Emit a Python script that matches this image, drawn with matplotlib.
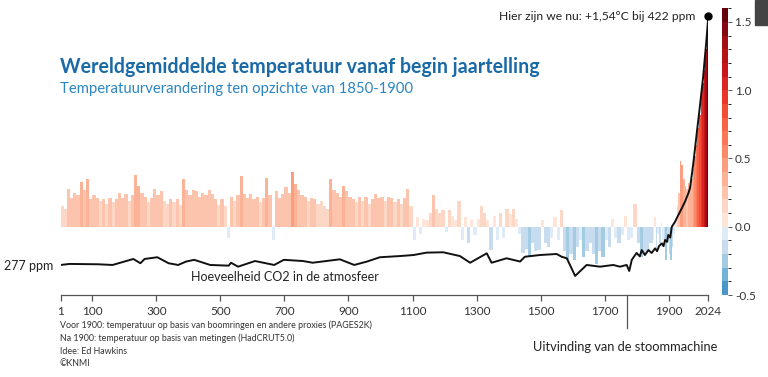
import numpy as np
import matplotlib
matplotlib.use("Agg")
import matplotlib.pyplot as plt
from matplotlib.colors import ListedColormap, BoundaryNorm
from matplotlib.patches import Rectangle

plt.rcParams["font.family"] = ["Lato", "DejaVu Sans"]

# Temperature anomaly vs 1850-1900 (°C), decadal bins before 1850 (PAGES2K)
proxy_start = np.arange(0, 1850, 10)
proxy_temp = [
    0.15, 0.13, 0.28, 0.21, 0.25, 0.23, 0.33, 0.27, 0.35, 0.20,
    0.23, 0.21, 0.19, 0.20, 0.17, 0.21, 0.18, 0.20, 0.25, 0.21,
    0.24, 0.19, 0.23, 0.38, 0.30, 0.25, 0.22, 0.18, 0.21, 0.28,
    0.23, 0.26, 0.19, 0.17, 0.20, 0.18, 0.20, 0.16, 0.35, 0.27,
    0.23, 0.27, 0.26, 0.22, 0.25, 0.23, 0.27, 0.24, 0.20, 0.16,
    0.20, 0.15, -0.08, 0.22, 0.19, 0.23, 0.37, 0.24, 0.21, 0.24,
    0.20, 0.22, 0.18, 0.21, 0.36, 0.23, -0.10, 0.26, 0.21, 0.24,
    0.29, 0.25, 0.40, 0.31, 0.27, 0.23, 0.22, 0.19, 0.21, 0.20,
    0.17, 0.19, 0.15, 0.13, 0.35, 0.27, 0.25, 0.22, 0.30, 0.26,
    0.22, 0.20, 0.18, 0.22, 0.19, 0.22, 0.17, 0.20, 0.24, 0.21,
    0.22, 0.19, 0.22, 0.21, 0.18, 0.20, 0.17, 0.21, 0.28, 0.15,
    -0.10, 0.07, -0.05, 0.06, 0.05, 0.10, 0.23, 0.13, 0.10, 0.12,
    -0.04, 0.12, 0.08, 0.05, 0.19, -0.10, 0.07, -0.12, 0.05, -0.06,
    0.06, 0.15, 0.10, 0.05, -0.17, 0.08, -0.10, 0.10, -0.08, 0.13,
    0.09, 0.13, 0.06, -0.05, -0.19, -0.16, -0.22, -0.12, -0.18, -0.17,
    0.05, -0.12, -0.15, -0.08, 0.07, -0.10, 0.12, -0.18, -0.24, -0.20,
    -0.24, -0.15, -0.10, -0.22, -0.18, -0.12, -0.20, -0.27, -0.18, -0.22,
    -0.10, -0.15, 0.06, -0.08, -0.12, -0.06, 0.08, -0.10, -0.08, 0.17,
    -0.12, -0.22, -0.20, -0.18, -0.12,
]

# 5-year bins from 1850 (HadCRUT5)
obs_start = np.arange(1850, 2025, 5)
obs_temp = [
    -0.10, 0.07, -0.17, -0.05, -0.12, 0.03, -0.10, -0.15, -0.24, -0.12,
    -0.20, -0.24, -0.15, -0.05, 0.05, 0.15, 0.25, 0.48, 0.45, 0.35,
    0.30, 0.28, 0.32, 0.30, 0.35, 0.42, 0.52, 0.60, 0.72, 0.82,
    0.95, 1.05, 1.15, 1.30, 1.54,
]

# CO2 concentration (ppm)
co2_year = [
    1, 28, 118, 163, 228, 250, 263, 303, 338, 368, 393, 418, 468, 526, 533,
    555, 608, 668, 698, 758, 788, 873, 918, 958, 998, 1061, 1103, 1144, 1196,
    1248, 1280, 1332, 1347, 1394, 1436, 1451, 1498, 1550, 1566, 1582, 1608,
    1644, 1686, 1727, 1748, 1769, 1777, 1785, 1800, 1810, 1816, 1826, 1837,
    1847, 1858, 1864, 1870, 1879, 1884, 1889, 1895, 1899, 1905, 1910, 1920,
    1930, 1941, 1951, 1962, 1967, 1977, 1988, 1998, 2008, 2019, 2024,
]
co2_ppm = [
    277, 277.6, 277.4, 277, 280.5, 278, 280.5, 281.5, 278, 277, 279, 280, 277,
    276.6, 278.3, 276, 279.3, 277, 280, 279.3, 278.3, 280.3, 277, 279, 281.5,
    282.2, 282.8, 284.2, 284.4, 282.2, 278.3, 283.8, 278.3, 280.9, 279, 281.8,
    282.8, 283.4, 281.8, 280.9, 270.6, 277, 276, 277, 276, 277, 273.5, 280,
    284, 282, 285.7, 282.8, 285.7, 284, 286.7, 285, 288, 289.6, 288, 291.6,
    290.5, 294.5, 293, 299.3, 302.2, 306, 310, 313.9, 319, 322, 336, 354, 370,
    387, 410, 422,
]

year_ticks = [1, 100, 300, 500, 700, 900, 1100, 1300, 1500, 1700, 1900, 2024]
cbar_ticks = [-0.5, 0.0, 0.5, 1.0, 1.5]
cbar_labels = ["-0.5", "0.0", "0.5", "1.0", "1.5 °C"]
steam_year = 1769
now_temp, now_ppm = 1.54, 422

# discrete colour scale, 0.1 °C steps
bounds = np.round(np.arange(-0.5, 1.61, 0.1), 2)
blues = plt.cm.Blues(np.linspace(0.6, 0.12, 5))
reds = plt.cm.Reds(np.linspace(0.1, 1.0, 16))
cmap = ListedColormap(np.vstack([blues, reds]))
norm = BoundaryNorm(bounds, cmap.N)

W, H = 768, 377
fig = plt.figure(figsize=(W / 100, H / 100), dpi=100)
ax = fig.add_axes([60.7 / W, 82 / H, 647.6 / W, 286.7 / H])

ax.bar(proxy_start, proxy_temp, width=10, align="edge",
       color=cmap(norm(proxy_temp)), linewidth=0)
ax.bar(obs_start, obs_temp, width=5, align="edge",
       color=cmap(norm(obs_temp)), linewidth=0)

ax.set_xlim(1, 2024)
ax.set_ylim(-0.5, 1.6)
for s in ["left", "right", "top"]:
    ax.spines[s].set_visible(False)
ax.spines["bottom"].set_color("#555555")
ax.spines["bottom"].set_linewidth(0.9)
ax.set_yticks([])
ax.set_xticks(year_ticks)
ax.tick_params(axis="x", length=4, width=0.9, color="#555555",
               labelsize=8.5, labelcolor="#333333", pad=4)

# CO2 on twin axis: 277 ppm -> -0.28 °C level, 422 ppm -> 1.54 °C level
a, b = -0.28, (now_temp + 0.28) / (now_ppm - 277)
ax2 = ax.twinx()
ax2.set_ylim((-0.5 - a) / b + 277, (1.6 - a) / b + 277)
ax2.plot(co2_year, co2_ppm, color="#111111", lw=1.4)
ax2.plot([2024], [now_ppm], "o", color="black", ms=5, clip_on=False)
ax2.axis("off")

# steam engine marker
tr = ax.get_xaxis_transform()
ax.plot([steam_year, steam_year], [0, -0.115], transform=tr, color="#555555",
        lw=0.9, clip_on=False)
ax.text(steam_year - 5, -0.18, "Uitvinding van de stoommachine", transform=tr,
        ha="center", va="center", fontsize=9.3, color="#222222")

# colorbar
cax = fig.add_axes([722 / W, 82 / H, 6 / W, 286.7 / H])
cb = fig.colorbar(plt.cm.ScalarMappable(norm=norm, cmap=cmap), cax=cax,
                  ticks=cbar_ticks)
cb.outline.set_visible(False)
cb.ax.set_yticklabels(cbar_labels)
cb.ax.tick_params(length=3, width=0.7, color="#555555", labelsize=8.5,
                  labelcolor="#333333", pad=2)

# texts
fig.text(60 / W, 1 - 67 / H, "Wereldgemiddelde temperatuur vanaf begin jaartelling",
         fontsize=14.1, fontweight="bold", color="#1a6aa6", va="center")
fig.text(60 / W, 1 - 89 / H, "Temperatuurverandering ten opzichte van 1850-1900",
         fontsize=10.7, color="#2b86c2", va="center")
fig.text(695 / W, 1 - 17 / H, "Hier zijn we nu: +1,54°C bij 422 ppm",
         fontsize=8.7, color="#222222", ha="right", va="center")
fig.text(53 / W, 1 - 266 / H, "277 ppm", fontsize=9, color="#222222",
         ha="right", va="center")
fig.text(191 / W, 1 - 277 / H, "Hoeveelheid CO2 in de atmosfeer", fontsize=9,
         color="#222222", ha="left", va="center")

notes = [
    "Voor 1900: temperatuur op basis van boomringen en andere proxies (PAGES2K)",
    "Na 1900: temperatuur op basis van metingen (HadCRUT5.0)",
    "Idee: Ed Hawkins",
    "©KNMI",
]
for i, line in enumerate(notes):
    fig.text(60 / W, 1 - (325 + 13 * i) / H, line, fontsize=6.4,
             color="#333333", va="center")

# grey block in top-right corner
fig.patches.append(Rectangle((755 / W, 1 - 25 / H), 13 / W, 25 / H,
                             transform=fig.transFigure, color="#444444"))

fig.savefig("out.png", dpi=100)
